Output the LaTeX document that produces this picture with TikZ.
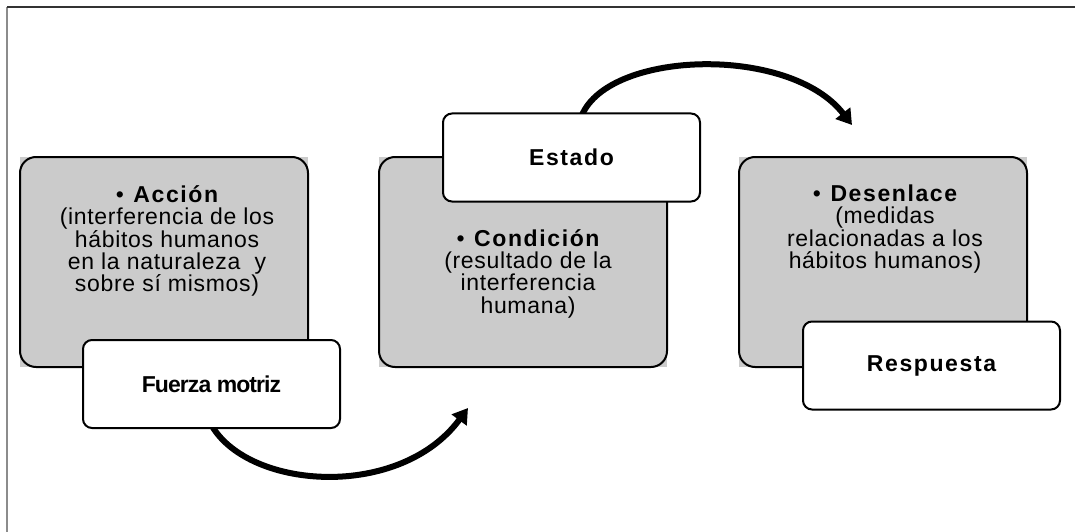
\documentclass[tikz,border=0pt]{standalone}
\usepackage{fontspec}
\setmainfont{Liberation Sans}
\newfontfamily\bodyfont[LetterSpace=3]{Liberation Sans}
\newfontfamily\titlefont[LetterSpace=7]{Liberation Sans}
\newfontfamily\fmfont[LetterSpace=-4]{Liberation Sans}
\usetikzlibrary{arrows.meta,backgrounds}
\definecolor{boxgrey}{RGB}{203,203,203}
\newcommand{\tightlines}{\lineskiplimit=-60pt\relax\lineskip=0pt\relax}
\tikzset{
  greybox/.style={draw=black, line width=2pt, rounded corners=16pt,
    minimum width=288pt, minimum height=210pt, inner sep=0pt},
  labelbox/.style={draw=black, fill=white, line width=2pt, rounded corners=9pt,
    minimum width=257pt, minimum height=88pt, inner sep=0pt,
    font=\titlefont\bfseries\fontsize{23}{26}\selectfont},
  bodytxt/.style={align=center, inner sep=0pt, anchor=base,
    font=\bodyfont\fontsize{23}{22.3}\selectfont\tightlines},
  flow/.style={line width=6pt, -{Triangle[length=15pt,width=18pt]}},
}
\newcommand{\ttl}[1]{{\titlefont\bfseries\fontsize{23}{22.3}\selectfont\textmd{•} #1}}
\begin{document}
\begin{tikzpicture}[x=1pt,y=1pt]
\useasboundingbox (0,0) rectangle (1075,-532);
\draw[black!45, line width=1.5pt] (7,-532) -- (7,-7);
\draw[black!80, line width=1.5pt] (7,-7) -- (1075,-7);

% grey boxes
\node[greybox] (acc) at (164,-262) {};
\node[greybox] (con) at (523,-262) {};
\node[greybox] (des) at (883,-262) {};
\begin{pgfonlayer}{background}
\foreach \b in {acc,con,des}
  \fill[boxgrey] ([shift={(1pt,1pt)}]\b.south west) rectangle ([shift={(-1pt,-1pt)}]\b.north east);
\end{pgfonlayer}

% texts (base anchor = baseline of the last line)
\node[bodytxt] (acct) at (167,-291.7) {\ttl{Acción}\\ (interferencia de los\\ hábitos humanos\\ en la naturaleza \ y\\ sobre sí mismos)};
\node[bodytxt] (cont) at (528,-313) {\ttl{Condición}\\ (resultado de la\\ interferencia\\ humana)};
\node[bodytxt] (dest) at (885,-268.3) {\ttl{Desenlace}\\ (medidas\\ relacionadas a los\\ hábitos humanos)};

% arrows
\coordinate (tip1) at (468,-408);
\coordinate (tip2) at (852,-125);
\coordinate (fmout) at (212,-426);
\coordinate (esout) at (582,-115);
\draw[flow] (fmout) .. controls (250,-490) and (400,-500) .. (tip1);
\draw[flow] (esout) .. controls (610,-50) and (790,-45) .. (tip2);

% label boxes
\node[labelbox, font=\fmfont\bfseries\fontsize{23}{26}\selectfont] (fm) at (211.5,-384) {Fuerza motriz};
\node[labelbox] (est) at (571.5,-157.5) {Estado};
\node[labelbox] (res) at (931.5,-365.5) {Respuesta};
\end{tikzpicture}
\end{document}
